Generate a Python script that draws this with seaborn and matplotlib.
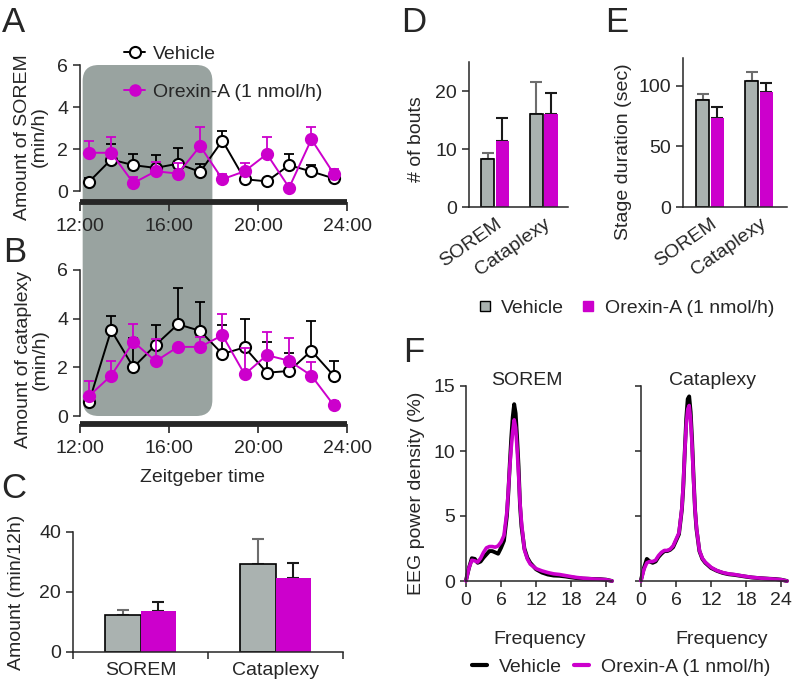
import numpy as np
import pandas as pd
import matplotlib
matplotlib.use("Agg")
import matplotlib.pyplot as plt
import seaborn as sns
from matplotlib.lines import Line2D
from matplotlib.patches import FancyBboxPatch
from matplotlib.transforms import IdentityTransform

# ---- data ----
zt = [12.4, 13.4, 14.4, 15.4, 16.4, 17.4, 18.4, 19.4, 20.4, 21.4, 22.4, 23.4]
zt_ticks = [12, 16, 20, 24]
zt_labels = ["12:00", "16:00", "20:00", "24:00"]

# A: SOREM amount (min/h), mean and SEM
sorem_veh = [0.43, 1.5, 1.23, 1.1, 1.3, 0.91, 2.4, 0.56, 0.46, 1.23, 0.93, 0.6]
sorem_veh_se = [0.17, 0.74, 0.51, 0.61, 0.76, 0.39, 0.48, 0.1, 0.08, 0.51, 0.33, 0.23]
sorem_ore = [1.82, 1.82, 0.38, 0.94, 0.83, 2.14, 0.56, 0.94, 1.76, 0.16, 2.46, 0.83]
sorem_ore_se = [0.58, 0.74, 0.29, 0.45, 0.48, 0.93, 0.27, 0.37, 0.83, 0.08, 0.61, 0.24]

# B: cataplexy amount (min/h)
cata_veh = [0.56, 3.53, 2.0, 2.92, 3.77, 3.5, 2.55, 2.82, 1.78, 1.85, 2.68, 1.66]
cata_veh_se = [0.1, 0.58, 1.22, 0.81, 1.48, 1.2, 1.18, 1.18, 1.27, 0.73, 1.24, 0.61]
cata_ore = [0.82, 1.66, 3.05, 2.25, 2.84, 2.84, 3.32, 1.71, 2.5, 2.27, 1.66, 0.45]
cata_ore_se = [0.62, 0.61, 0.72, 0.9, 0.06, 0.42, 0.87, 1.07, 0.94, 0.95, 0.55, 0.17]

stages = ["SOREM", "Cataplexy"]
groups = ["Vehicle", "Orexin-A (1 nmol/h)"]

# C: amount per 12 h
amount_veh, amount_veh_se = [12.2, 29.3], [1.7, 8.5]
amount_ore, amount_ore_se = [13.7, 24.6], [2.9, 5.2]
# D: number of bouts
bouts_veh, bouts_veh_se = [8.2, 16.1], [1.1, 5.5]
bouts_ore, bouts_ore_se = [11.4, 16.0], [4.0, 3.7]
# E: stage duration (sec)
dur_veh, dur_veh_se = [88.5, 104.4], [4.5, 7.4]
dur_ore, dur_ore_se = [73.4, 94.8], [9.0, 7.9]

# F: EEG spectra
freq = [0, 0.5, 1, 1.5, 2, 2.5, 3, 3.5, 4, 4.5, 5, 5.5, 6, 6.5, 7, 7.25, 7.5, 7.75,
        8, 8.25, 8.5, 8.75, 9, 9.25, 9.5, 10, 10.5, 11, 12, 13, 14, 15, 16, 17, 18,
        19, 20, 21, 22, 23, 24, 25]
psd_sorem_veh = [0.05, 1.0, 1.75, 1.7, 1.4, 1.5, 1.8, 2.05, 2.3, 2.3, 2.2, 2.1, 2.55, 3.1,
                 5.0, 6.8, 9.0, 11.0, 12.6, 13.6, 12.9, 11.0, 8.8, 5.8, 4.2, 2.5, 1.8, 1.4,
                 0.9, 0.65, 0.5, 0.42, 0.4, 0.35, 0.28, 0.22, 0.18, 0.17, 0.15, 0.14, 0.1, 0.0]
psd_sorem_ore = [0.0, 1.0, 1.6, 1.55, 1.45, 1.75, 2.2, 2.55, 2.65, 2.65, 2.6, 2.7, 3.0, 3.5,
                 5.3, 7.0, 8.8, 10.3, 11.5, 12.4, 11.8, 10.2, 8.2, 6.0, 4.5, 2.4, 1.7, 1.3,
                 0.95, 0.78, 0.65, 0.55, 0.5, 0.42, 0.34, 0.27, 0.22, 0.18, 0.15, 0.13, 0.1, 0.0]
psd_cata_veh = [0.1, 1.0, 1.7, 1.5, 1.4, 1.5, 1.85, 2.1, 2.3, 2.3, 2.4, 2.6, 3.1, 3.6,
                5.5, 7.3, 10.0, 12.5, 14.0, 14.2, 13.0, 10.8, 8.0, 5.5, 4.0, 2.3, 1.7, 1.4,
                1.0, 0.78, 0.62, 0.52, 0.47, 0.4, 0.33, 0.27, 0.23, 0.2, 0.17, 0.15, 0.1, 0.0]
psd_cata_ore = [0.0, 0.9, 1.4, 1.5, 1.5, 1.6, 1.95, 2.2, 2.35, 2.35, 2.45, 2.7, 3.2, 3.7,
                5.6, 7.5, 10.0, 12.0, 13.2, 13.5, 12.4, 10.4, 7.8, 5.5, 4.1, 2.35, 1.75, 1.45,
                1.05, 0.8, 0.65, 0.55, 0.5, 0.42, 0.35, 0.28, 0.24, 0.2, 0.17, 0.14, 0.1, 0.0]

MAG = "#cc00cc"
GREY = "#aab2b0"
SHADE = "#99a3a0"
FS = 14

sns.set_style("ticks")
plt.rcParams["font.family"] = ["Liberation Sans", "DejaVu Sans"]
plt.rcParams["font.size"] = FS
plt.rcParams["axes.linewidth"] = 1.1
plt.rcParams["xtick.major.width"] = 1.1
plt.rcParams["ytick.major.width"] = 1.1
plt.rcParams["xtick.major.size"] = 5
plt.rcParams["ytick.major.size"] = 5
plt.rcParams["xtick.labelsize"] = FS
plt.rcParams["ytick.labelsize"] = FS

W, H = 796, 679
fig = plt.figure(figsize=(W / 100, H / 100), dpi=100)


def rect(l, t, r, b):
    return [l / W, 1 - b / H, (r - l) / W, (b - t) / H]


def ftext(x, y, s, **kw):
    fig.text(x / W, 1 - y / H, s, **kw)


def plain(ax):
    ax.spines["top"].set_visible(False)
    ax.spines["right"].set_visible(False)
    ax.patch.set_visible(False)


# ---- A & B: hourly time courses ----
def hourly(ax, veh, veh_se, ore, ore_se, off):
    ax.errorbar(zt, veh, yerr=[np.zeros(len(veh)), veh_se], fmt="none", ecolor="black",
                elinewidth=1.3, capsize=3.5, capthick=1.3, zorder=2, clip_on=False)
    sns.lineplot(x=zt, y=veh, ax=ax, color="black", lw=1.4, marker="o", ms=8,
                 mfc="white", mec="black", mew=1.5, zorder=3, clip_on=False)
    ax.errorbar(zt, ore, yerr=[np.zeros(len(ore)), ore_se], fmt="none", ecolor=MAG,
                elinewidth=1.3, capsize=3.5, capthick=1.3, zorder=4, clip_on=False)
    sns.lineplot(x=zt, y=ore, ax=ax, color=MAG, lw=1.4, marker="o", ms=8,
                 mfc=MAG, mec=MAG, mew=1.5, zorder=5, clip_on=False)
    plain(ax)
    ax.set_xlim(12, 24)
    ax.set_ylim(0, 6)
    ax.set_yticks([0, 2, 4, 6])
    ax.set_xticks(zt_ticks)
    ax.set_xticklabels(zt_labels)
    ax.spines["bottom"].set_position(("outward", off))
    ax.spines["bottom"].set_linewidth(4.2)
    ax.spines["bottom"].set_capstyle("butt")
    ax.tick_params(axis="x", length=6.5, width=1.2, pad=5)
    ax.set_xlabel("")
    ax.set_ylabel("")


axA = fig.add_axes(rect(80, 65, 347, 191))
hourly(axA, sorem_veh, sorem_veh_se, sorem_ore, sorem_ore_se, 8)
axB = fig.add_axes(rect(80, 270, 347, 416))
hourly(axB, cata_veh, cata_veh_se, cata_ore, cata_ore_se, 6)

# grey infusion period spanning A and B
p_top = axA.transData.transform((12.12, 6))
p_bot = axB.transData.transform((17.95, 0))
shade = FancyBboxPatch((p_top[0], p_bot[1]), p_bot[0] - p_top[0], p_top[1] - p_bot[1],
                       boxstyle="round,pad=0,rounding_size=16", transform=IdentityTransform(),
                       facecolor=SHADE, edgecolor="none", zorder=-1)
fig.add_artist(shade)

leg_handles = [
    Line2D([], [], color="black", lw=1.4, marker="o", ms=8, mfc="white", mec="black", mew=1.5),
    Line2D([], [], color=MAG, lw=1.4, marker="o", ms=8, mfc=MAG, mec=MAG),
]
fig.legend(leg_handles, groups, loc="upper left", bbox_to_anchor=(124 / W, 1 - 45 / H),
           frameon=False, handlelength=1.1, handletextpad=0.4, labelspacing=1.05,
           fontsize=FS, borderpad=0, borderaxespad=0)

ftext(31, 137, "Amount of SOREM\n(min/h)", rotation=90, ha="center", va="center",
      fontsize=FS, linespacing=1.0)
ftext(32, 360, "Amount of cataplexy\n(min/h)", rotation=90, ha="center", va="center",
      fontsize=FS, linespacing=1.0)
ftext(202, 477, "Zeitgeber time", ha="center", va="center", fontsize=FS)


# ---- bar panels C, D, E ----
def bars(ax, veh, veh_se, ore, ore_se, width, gap):
    df = pd.DataFrame({"stage": stages * 2,
                       "group": [groups[0]] * 2 + [groups[1]] * 2,
                       "value": veh + ore})
    sns.barplot(data=df, x="stage", y="value", hue="group", palette=[GREY, MAG],
                width=width, gap=gap, saturation=1, errorbar=None, legend=False, ax=ax)
    for cont, se, ecol in zip(ax.containers, [veh_se, ore_se], ["#6d6d6d", "#1a1a1a"]):
        xs = [b.get_x() + b.get_width() / 2 for b in cont]
        hs = [b.get_height() for b in cont]
        ax.errorbar(xs, hs, yerr=[np.zeros(len(se)), se], fmt="none", ecolor=ecol,
                    elinewidth=1.5, capsize=4, capthick=1.5, zorder=1)
    for b in ax.containers[0]:
        b.set_edgecolor("black")
        b.set_linewidth(1.2)
        b.set_zorder(2)
    for b in ax.containers[1]:
        b.set_linewidth(0)
        b.set_zorder(2)
    plain(ax)
    ax.set_xlabel("")
    ax.set_ylabel("")


axC = fig.add_axes(rect(73, 532, 343, 652))
bars(axC, amount_veh, amount_veh_se, amount_ore, amount_ore_se, 0.52, 0)
axC.set_xlim(-0.5, 1.5)
axC.set_ylim(0, 40)
axC.set_yticks([0, 20, 40])
axC.set_xticks([0, 1])
axC.set_xticklabels(stages)
axC.set_xticks([-0.5, 0.5, 1.5], minor=True)
axC.tick_params(axis="x", which="major", length=0, pad=7)
axC.tick_params(axis="x", which="minor", length=5, width=1.1)
ftext(17, 592, "Amount (min/12h)", rotation=90, ha="center", va="center", fontsize=FS)

axD = fig.add_axes(rect(469, 62, 568, 207))
bars(axD, bouts_veh, bouts_veh_se, bouts_ore, bouts_ore_se, 0.6, 0.1)
axD.set_xlim(-0.54, 1.5)
axD.set_ylim(0, 25)
axD.set_yticks([0, 10, 20])
ftext(416, 139, "# of bouts", rotation=90, ha="center", va="center", fontsize=FS)

axE = fig.add_axes(rect(683, 58, 787, 207))
bars(axE, dur_veh, dur_veh_se, dur_ore, dur_ore_se, 0.6, 0.1)
axE.set_xlim(-0.55, 1.57)
axE.set_ylim(0, 123)
axE.set_yticks([0, 50, 100])
ftext(623, 152, "Stage duration (sec)", rotation=90, ha="center", va="center", fontsize=FS)

for ax in (axD, axE):
    ax.set_xticks([0, 1])
    ax.set_xticklabels(stages, rotation=35, ha="right", rotation_mode="anchor")
    ax.tick_params(axis="x", length=0, pad=6)

bar_handles = [
    Line2D([], [], ls="none", marker="s", ms=7, mfc=GREY, mec="black", mew=1.0),
    Line2D([], [], ls="none", marker="s", ms=7, mfc=MAG, mec=MAG),
]
fig.legend(bar_handles, groups, loc="center", bbox_to_anchor=(626 / W, 1 - 308 / H), ncol=2,
           frameon=False, handlelength=0.7, handletextpad=0.5, columnspacing=0.9,
           fontsize=FS, borderpad=0, borderaxespad=0)

# ---- F: EEG power spectra ----
axF1 = fig.add_axes(rect(466, 386, 612, 581))
axF2 = fig.add_axes(rect(641, 386, 787, 581))
for ax, veh, ore in ((axF1, psd_sorem_veh, psd_sorem_ore), (axF2, psd_cata_veh, psd_cata_ore)):
    sns.lineplot(x=freq, y=veh, ax=ax, color="black", lw=2.8, clip_on=False)
    sns.lineplot(x=freq, y=ore, ax=ax, color=MAG, lw=2.6, clip_on=False)
    plain(ax)
    ax.set_xlim(0, 25)
    ax.set_ylim(0, 15)
    ax.set_xticks([0, 6, 12, 18, 24])
    ax.set_yticks([0, 5, 10, 15])
    ax.tick_params(length=4, pad=4)
    ax.set_xlabel("")
    ax.set_ylabel("")
axF2.set_yticklabels([])

ftext(527, 385, "SOREM", ha="center", va="baseline", fontsize=FS)
ftext(713, 385, "Cataplexy", ha="center", va="baseline", fontsize=FS)
ftext(540, 640, "Frequency", ha="center", va="center", fontsize=FS)
ftext(722, 640, "Frequency", ha="center", va="center", fontsize=FS)
ftext(416, 493, "EEG power density (%)", rotation=90, ha="center", va="center", fontsize=FS)

line_handles = [Line2D([], [], color="black", lw=3), Line2D([], [], color=MAG, lw=3)]
fig.legend(line_handles, groups, loc="center", bbox_to_anchor=(621 / W, 1 - 667 / H), ncol=2,
           frameon=False, handlelength=0.8, handletextpad=0.6, columnspacing=0.6,
           fontsize=FS, borderpad=0, borderaxespad=0)

# ---- panel letters ----
for x, y, s in ((13, 22, "A"), (15, 253, "B"), (14, 489, "C"), (414, 22, "D"),
                (617, 22, "E"), (414, 352, "F")):
    ftext(x, y, s, ha="center", va="center", fontsize=25)

fig.savefig("out.png", dpi=100)
